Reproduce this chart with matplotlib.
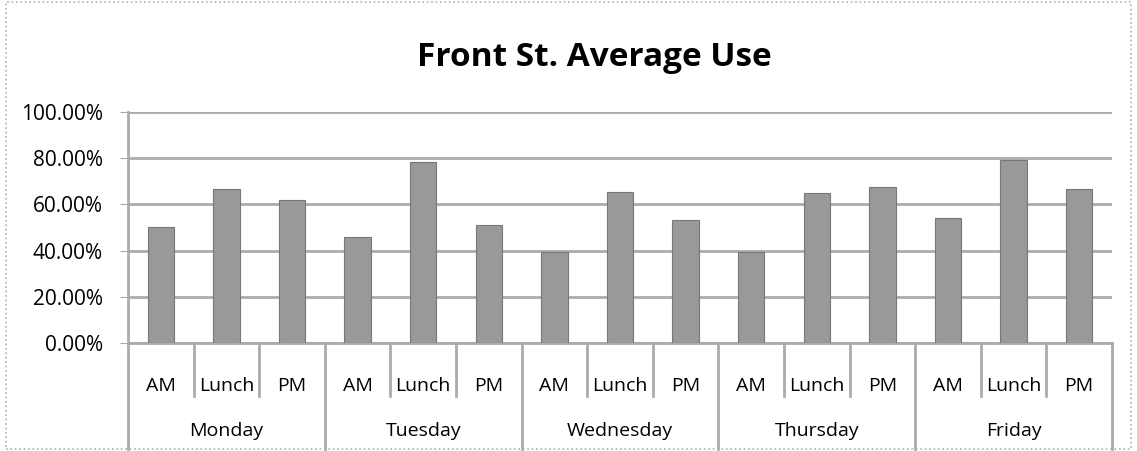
import matplotlib.pyplot as plt
import matplotlib.transforms as mtransforms
import numpy as np
from matplotlib.patches import Rectangle
from matplotlib.ticker import PercentFormatter

days = ["Monday", "Tuesday", "Wednesday", "Thursday", "Friday"]
periods = ["AM", "Lunch", "PM"]
use = [
    50.2, 66.8, 62.1,
    45.9, 78.5, 51.0,
    39.5, 65.3, 53.2,
    39.5, 64.8, 67.5,
    54.0, 79.0, 66.5,
]

plt.rcParams["font.family"] = ["Open Sans", "DejaVu Sans"]

fig = plt.figure(figsize=(11.37, 4.51), dpi=100)
ax = fig.add_axes([0.1126, 0.2395, 0.8654, 0.5122])

x = np.arange(len(use))
ax.bar(x, [v / 100 for v in use], 0.4, color="#999999", edgecolor="#777777", linewidth=0.8, zorder=3)

ax.set_xlim(-0.5, len(use) - 0.5)
ax.set_ylim(0, 1)
ax.set_yticks(np.linspace(0, 1, 6))
ax.yaxis.set_major_formatter(PercentFormatter(1.0, decimals=2))
ax.tick_params(axis="y", labelsize=15, length=6, color="#a8a8a8", pad=12)
ax.tick_params(axis="x", bottom=False, labelbottom=False)
ax.grid(axis="y", color="#ababab", linewidth=2, zorder=0)
for side in ["top", "right"]:
    ax.spines[side].set_visible(False)
ax.spines["left"].set_color("#ababab")
ax.spines["left"].set_linewidth(2)
ax.spines["bottom"].set_color("#ababab")
ax.spines["bottom"].set_linewidth(2)

trans = mtransforms.blended_transform_factory(ax.transData, ax.transAxes)
for i in range(len(use)):
    ax.text(x[i], -0.185, periods[i % 3], transform=trans, ha="center", va="center", fontsize=14)
for d, day in enumerate(days):
    ax.text(x[3 * d + 1], -0.38, day, transform=trans, ha="center", va="center", fontsize=14)

for k in range(len(use) + 1):
    bottom = -0.46 if k % 3 == 0 else -0.23
    ax.plot([k - 0.5, k - 0.5], [0, bottom], transform=trans, color="#ababab",
            linewidth=2, clip_on=False)

fig.text(0.523, 0.872, "Front St. Average Use", ha="center", va="center",
         fontsize=24, fontweight="bold")

fig.patches.append(Rectangle((0.005, 0.005), 0.99, 0.99, transform=fig.transFigure,
                             fill=False, edgecolor="#b0b0b0", linestyle=":", linewidth=1.2))

fig.savefig("out.png", dpi=100)
